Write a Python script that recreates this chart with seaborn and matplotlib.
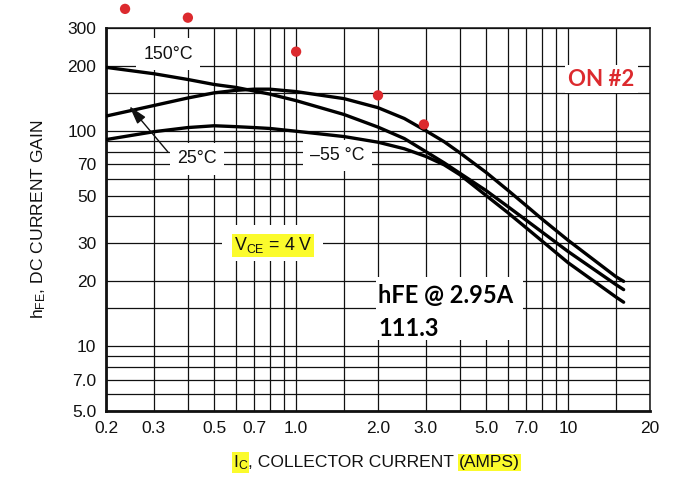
import pandas as pd
import matplotlib.pyplot as plt
import seaborn as sns
from matplotlib.patches import Rectangle
from matplotlib.ticker import FixedLocator, NullFormatter

# hFE vs Ic curves (Ic in amps)
ic_25 = [0.2, 0.3, 0.4, 0.5, 0.6, 0.7, 0.8, 1.0, 1.5, 2.0, 2.5, 3.0, 3.5, 4.0, 5.0, 6.0, 7.0, 8.0, 10, 15, 16]
hfe_25 = [117, 131, 142, 150, 154, 156, 156, 152, 141, 128, 114, 100, 89, 79, 64, 53, 45, 39, 31, 21, 20]

ic_150 = [0.2, 0.3, 0.4, 0.5, 0.6, 0.7, 0.8, 1.0, 1.5, 2.0, 2.5, 3.0, 3.5, 4.0, 5.0, 6.0, 7.0, 10, 15, 16]
hfe_150 = [197, 184, 173, 164, 159, 153, 148, 138, 119, 104, 92, 80, 71, 63.5, 52.7, 44.5, 38.5, 27.5, 19.3, 18.3]

ic_m55 = [0.2, 0.3, 0.4, 0.5, 0.6, 0.7, 0.8, 1.0, 1.5, 2.0, 2.5, 3.0, 3.5, 4.0, 5.0, 6.0, 7.0, 10, 15, 16]
hfe_m55 = [91, 99, 103.5, 105.5, 104.5, 103.5, 102.5, 99.5, 94, 88.5, 82.5, 76, 69.5, 62.5, 50, 41.7, 35.5, 24.4, 16.9, 16]

# measured points (red dots)
meas_ic = [0.235, 0.4, 1.0, 2.0, 2.95]
meas_hfe = [368, 335, 233, 146, 107]

x_ticks = [0.2, 0.3, 0.5, 0.7, 1.0, 2.0, 3.0, 5.0, 7.0, 10, 20]
x_tick_labels = ["0.2", "0.3", "0.5", "0.7", "1.0", "2.0", "3.0", "5.0", "7.0", "10", "20"]
y_ticks = [5, 7, 10, 20, 30, 50, 70, 100, 200, 300]
y_tick_labels = ["5.0", "7.0", "10", "20", "30", "50", "70", "100", "200", "300"]
x_grid = [0.3, 0.4, 0.5, 0.6, 0.7, 0.8, 0.9, 1.0, 1.5, 2, 3, 4, 5, 6, 7, 8, 9, 10, 15]
y_grid = [6, 7, 8, 9, 10, 15, 20, 30, 40, 50, 60, 70, 80, 90, 100, 150, 200]

curves = pd.concat([
    pd.DataFrame({"ic": ic_25, "hfe": hfe_25, "temp": "25"}),
    pd.DataFrame({"ic": ic_150, "hfe": hfe_150, "temp": "150"}),
    pd.DataFrame({"ic": ic_m55, "hfe": hfe_m55, "temp": "-55"}),
])

sns.set_style("white")
plt.rcParams["font.family"] = ["Liberation Sans", "DejaVu Sans"]
plt.rcParams["mathtext.fontset"] = "custom"
plt.rcParams["mathtext.rm"] = "Liberation Sans"
plt.rcParams["mathtext.it"] = "Liberation Sans"

ink = "#111111"
hl = "#fbfb2c"
red = "#dc2a2e"

fig = plt.figure(figsize=(7, 4.88), dpi=100)
ax = fig.add_axes([106 / 700, 1 - 411 / 488, 544 / 700, 383 / 488])
ax.set_xscale("log")
ax.set_yscale("log")

sns.lineplot(data=curves, x="ic", y="hfe", units="temp", estimator=None, sort=False,
             color="black", lw=2.4, ax=ax, legend=False, zorder=4)
sns.scatterplot(x=meas_ic, y=meas_hfe, color=red, s=55, edgecolor="none",
                clip_on=False, zorder=5, ax=ax, legend=False)

ax.set_xlim(0.2, 20)
ax.set_ylim(5, 300)
ax.set_xticks(x_ticks, labels=x_tick_labels)
ax.set_yticks(y_ticks, labels=y_tick_labels)
ax.xaxis.set_minor_locator(FixedLocator(x_grid))
ax.yaxis.set_minor_locator(FixedLocator(y_grid))
ax.xaxis.set_minor_formatter(NullFormatter())
ax.yaxis.set_minor_formatter(NullFormatter())
ax.tick_params(which="both", length=0, labelsize=12.5, colors=ink, pad=7)
ax.grid(which="both", color=ink, lw=0.9)
ax.set_axisbelow(True)
for side in ["left", "bottom"]:
    ax.spines[side].set_linewidth(2.0)
for side in ["top", "right"]:
    ax.spines[side].set_linewidth(1.1)
for sp in ax.spines.values():
    sp.set_color(ink)
ax.set_xlabel("")
ax.set_ylabel(r"$\mathrm{h_{FE}}$, DC CURRENT GAIN", fontsize=12.6, color=ink, labelpad=14)

# curve labels
box = dict(boxstyle="square,pad=0.4", fc="white", ec="none")
ax.text(0.114, 0.932, "150°C", transform=ax.transAxes, ha="center", va="center",
        fontsize=12.8, color=ink, bbox=box, zorder=3)
ax.text(0.167, 0.658, "25°C", transform=ax.transAxes, ha="center", va="center",
        fontsize=12.8, color=ink, bbox=box, zorder=3)
ax.text(0.426, 0.668, "–55 °C", transform=ax.transAxes, ha="center", va="center",
        fontsize=12.8, color=ink, bbox=box, zorder=3)
ax.annotate("", xy=(0.043, 0.796), xytext=(0.114, 0.676), xycoords="axes fraction",
            arrowprops=dict(arrowstyle="-|>,head_length=0.7,head_width=0.2", color=ink,
                            lw=1.0, mutation_scale=16, shrinkA=0, shrinkB=0), zorder=6)

# VCE note
ax.add_patch(Rectangle((0.213, 0.392), 0.186, 0.094, transform=ax.transAxes,
                       fc="white", ec="none", zorder=2.5))
ax.text(0.307, 0.433, r"$\mathrm{V_{CE}}$ = 4 V", transform=ax.transAxes, ha="center",
        va="center", fontsize=12.8, color=ink, zorder=3,
        bbox=dict(boxstyle="square,pad=0.08", fc=hl, ec="none"))

# hFE note
ax.add_patch(Rectangle((0.496, 0.185), 0.271, 0.165, transform=ax.transAxes,
                       fc="white", ec="none", zorder=2.5))
ax.text(0.5, 0.301, "hFE @ 2.95A", transform=ax.transAxes, ha="left", va="center",
        fontsize=17, fontweight="bold", family=["Lato", "DejaVu Sans"], color="black", zorder=3)
ax.text(0.5, 0.215, "111.3", transform=ax.transAxes, ha="left", va="center",
        fontsize=17, fontweight="bold", family=["Lato", "DejaVu Sans"], color="black", zorder=3)

ax.text(0.911, 0.866, "ON #2", transform=ax.transAxes, ha="center", va="center",
        fontsize=16, fontweight="bold", family=["Lato", "DejaVu Sans"], color=red, zorder=3,
        bbox=dict(boxstyle="square,pad=0.15", fc="white", ec="none"))

# x label pieces, some highlighted
fig.canvas.draw()
r = fig.canvas.get_renderer()
x0 = 233 / 700
yb = 1 - 467 / 488
parts = [(r"$\mathrm{I_C}$", True), (", COLLECTOR CURRENT ", False), ("(AMPS)", True)]
for s, mark in parts:
    t = fig.text(x0, yb, s, ha="left", va="baseline", fontsize=12.6, color=ink,
                 bbox=dict(boxstyle="square,pad=0.06", fc=hl, ec="none") if mark else None)
    bb = t.get_window_extent(r)
    x0 = bb.x1 / fig.bbox.width

fig.savefig("out.png", dpi=100)
